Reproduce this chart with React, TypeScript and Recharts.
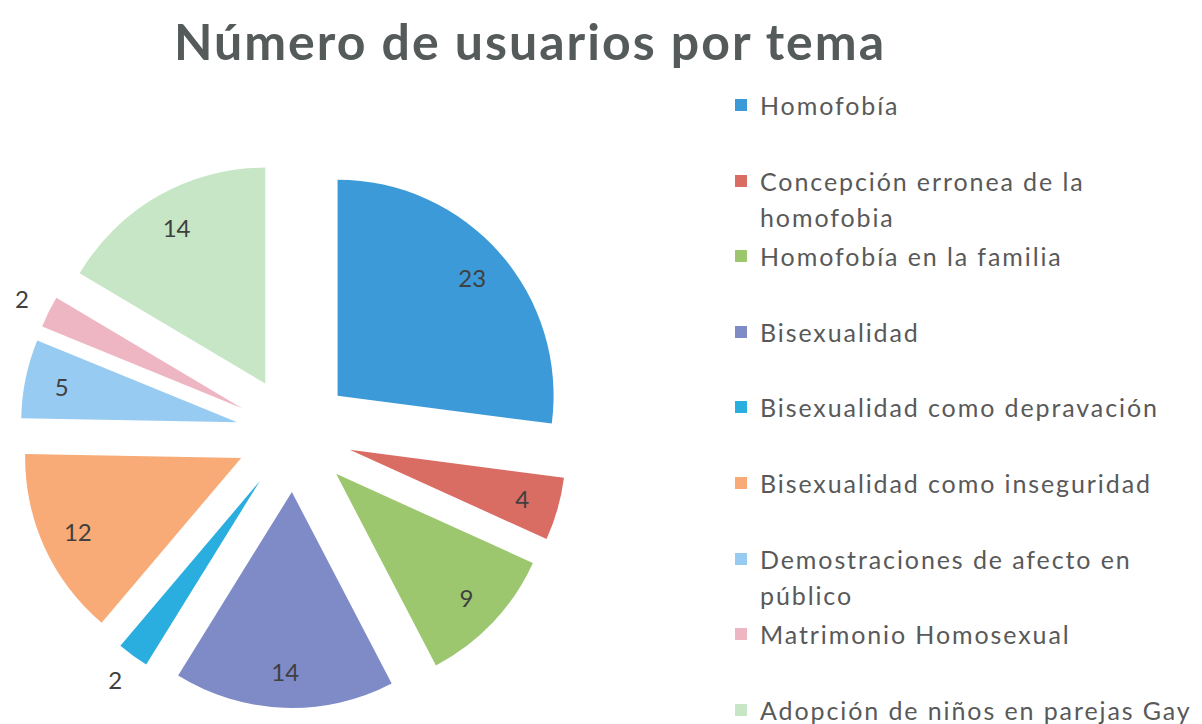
import React from 'react'
import { PieChart, Pie, Cell, Sector, Legend } from 'recharts'

// topics, in the order Excel drew them (clockwise from 12 o'clock)
const temas = [
  'Homofobía',
  'Concepción erronea de la homofobia',
  'Homofobía en la familia',
  'Bisexualidad',
  'Bisexualidad como depravación',
  'Bisexualidad como inseguridad',
  'Demostraciones de afecto en público',
  'Matrimonio Homosexual',
  'Adopción de niños en parejas Gay',
]
const usuarios = [23, 4, 9, 14, 2, 12, 5, 2, 14]
const colores = ['#3b9ad7', '#d96c63', '#9cc76f', '#7f8bc7', '#2aaee0', '#f8ab77', '#97cbf2', '#eeb6c3', '#c6e6c5']
const titulo = 'Número de usuarios por tema'

const data = temas.map((name, i) => ({ name, value: usuarios[i] }))

const RAD = Math.PI / 180
const EXPLODE = 58
const FONT = 'Lato, "Open Sans", sans-serif'
const TXT = '#595959'

// push every slice out along its own mid angle
const shift = (cx: number, cy: number, mid: number, d: number) => ({
  x: cx + Math.cos(-mid * RAD) * d,
  y: cy + Math.sin(-mid * RAD) * d,
})

const ExplodedSector = (props: any) => {
  const p = shift(props.cx, props.cy, props.midAngle, EXPLODE)
  return <Sector {...props} cx={p.x} cy={p.y} stroke="none" />
}

const renderLabel = (props: any) => {
  const { cx, cy, midAngle, outerRadius, value, percent } = props
  const c = shift(cx, cy, midAngle, EXPLODE)
  // thin slices get the label outside, like Excel's best fit
  const r = percent < 0.03 ? outerRadius + 30 : outerRadius * 0.83
  const p = shift(c.x, c.y, midAngle, r)
  return (
    <text x={p.x} y={p.y} fill="#404040" fontSize={24} fontFamily={FONT}
      textAnchor="middle" dominantBaseline="central">
      {value}
    </text>
  )
}

const wrapLines: Record<string, string[]> = {
  'Concepción erronea de la homofobia': ['Concepción erronea de la', 'homofobia'],
  'Demostraciones de afecto en público': ['Demostraciones de afecto en', 'público'],
}

const renderLegend = (props: any) => {
  // recharts sorts the legend by name, put it back in slice order
  const items = [...(props.payload || [])].sort(
    (a: any, b: any) => temas.indexOf(a.value) - temas.indexOf(b.value)
  )
  return (
    <div style={{ position: 'relative', fontFamily: FONT, fontSize: 25, color: TXT }}>
      {items.map((it: any, i: number) => {
        const lines = wrapLines[it.value] || [it.value]
        return (
          <div key={i} style={{ position: 'absolute', left: 0, top: i * 75.6, whiteSpace: 'nowrap' }}>
            <span style={{ position: 'absolute', left: 0, top: 12, width: 12, height: 12, background: it.color }} />
            {lines.map((l, j) => (
              <div key={j} style={{ marginLeft: 25, lineHeight: '36px', letterSpacing: 1.9 }}>{l}</div>
            ))}
          </div>
        )
      })}
    </div>
  )
}

export default function App() {
  return (
    <div style={{ position: 'absolute', left: 0, top: 0, width: 1202, height: 724, background: '#fff' }}>
      <div style={{
        position: 'absolute', left: 0, top: 11, width: 1060, textAlign: 'center',
        fontFamily: FONT, fontWeight: 700, fontSize: 50, letterSpacing: 2, color: '#555a5a',
      }}>
        {titulo}
      </div>
      <PieChart width={1202} height={724} style={{ position: 'absolute', left: 0, top: 0 }}>
        <Pie
          data={data}
          dataKey="value"
          nameKey="name"
          cx={289}
          cy={429}
          outerRadius={216}
          startAngle={90}
          endAngle={-270}
          stroke="none"
          shape={ExplodedSector}
          activeShape={ExplodedSector}
          inactiveShape={ExplodedSector}
          label={renderLabel}
          labelLine={false}
          isAnimationActive={false}
        >
          {data.map((d, i) => (
            <Cell key={d.name} fill={colores[i]} />
          ))}
        </Pie>
        <Legend
          layout="vertical"
          align="right"
          verticalAlign="top"
          content={renderLegend}
          wrapperStyle={{ left: 735, top: 87, width: 467, height: 640 }}
        />
      </PieChart>
    </div>
  )
}
